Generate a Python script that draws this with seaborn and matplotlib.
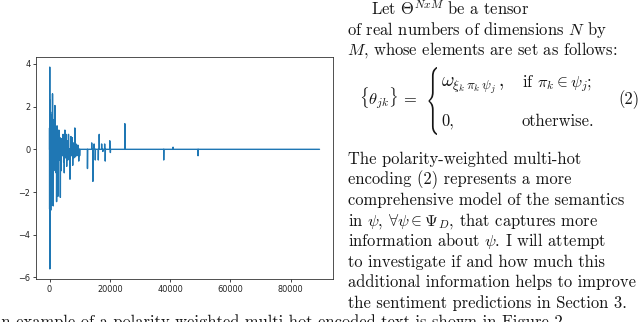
import numpy as np
import pandas as pd
import seaborn as sns
import matplotlib.pyplot as plt
from matplotlib.textpath import TextPath
from matplotlib.patches import PathPatch
from matplotlib.transforms import Affine2D

# spike positions (index) and values of the weighted vector
n_points = 89600
spike_idx = [20, 40, 60, 80, 100, 130, 160, 190, 230, 280, 350, 420, 500, 560,
             640, 720, 800, 900, 1000, 1080, 1160, 1250, 1350, 1450, 1550, 1650,
             1800, 1900, 2050, 2200, 2350, 2500, 2650, 2800, 2950, 3100, 3250,
             3450, 3600, 3750, 3900, 4100, 4300, 4500, 4700, 4900, 5100, 5300,
             5500, 5700, 5900, 6100, 6300, 6500, 6800, 7100, 7300, 7500, 7700,
             7900, 8100, 8400, 8600, 8800, 9100, 9400, 9700, 10000,
             12600, 14000, 14400, 14800, 15200, 16200, 16500, 17300, 17700,
             18300, 18500, 20000, 20200, 25000, 37900, 41000, 49300]
spike_val = [1.0, -2.8, 2.25, 3.85, 2.3, -5.6, -5.55, -3.9, 1.0, -2.6, 1.75, -2.85,
             1.0, -2.5, 1.6, -2.2, 0.8, -2.6, 2.6, 1.4, -2.55, -2.65, 0.9, -1.0,
             0.5, -0.7, 2.05, -0.4, 0.8, -1.1, -2.45, 1.1, 0.6, -2.2, 0.5, 0.9,
             -0.5, 0.55, -2.25, 0.3, -1.0, 0.5, -0.3, 0.7, -0.6, -1.1, 0.9, -0.4,
             0.7, -0.8, 0.4, -0.5, 0.7, -0.4, -1.4, 0.6, -0.3, 0.55, -0.75,
             0.3, -0.4, 1.0, -0.35, 0.25, -0.3, 0.2, -0.55, -0.3,
             -0.9, 0.3, -1.5, 0.25, -0.5, -0.5, 0.7, 0.25, -0.1,
             0.25, -0.55, 0.4, -0.15, 1.2, -0.5, 0.1, -0.3]

values = np.zeros(n_points)
values[spike_idx] = spike_val
df = pd.DataFrame({'index': np.arange(n_points), 'value': values})

# page text
text_lines = [
    r"Let $\Theta^{NxM}$ be a tensor",
    r"of real numbers of dimensions $N$ by",
    r"$M$, whose elements are set as follows:",
]
para_lines = [
    "The polarity-weighted multi-hot",
    "encoding (2) represents a more",
    "comprehensive model of the semantics",
    r"in $\psi$, $\forall\psi\in\Psi_D$, that captures more",
    r"information about $\psi$. I will attempt",
    "to investigate if and how much this",
    "additional information helps to improve",
    "the sentiment predictions in Section 3.",
]
bottom_line = "An example of a polarity-weighted multi-hot encoded text is shown in Figure 2."

sns.set_theme(style="ticks")
plt.rcParams['mathtext.fontset'] = 'cm'

fig = plt.figure(figsize=(6.4, 3.22), dpi=100)

# page overlay in pixel coordinates
page = fig.add_axes([0, 0, 1, 1])
page.set_xlim(0, 640)
page.set_ylim(322, 0)
page.axis('off')

fs = 11.9
tc = '#151515'
page.text(371, 15, text_lines[0], fontsize=fs, family='cmr10', color=tc, va='baseline')
page.text(347, 35, text_lines[1], fontsize=fs, family='cmr10', color=tc, va='baseline')
page.text(347, 55, text_lines[2], fontsize=fs, family='cmr10', color=tc, va='baseline')

# equation (2)
page.text(359, 104, r"$\{\theta_{jk}\}\,=$", fontsize=fs, color=tc, va='baseline')
page.text(441, 87, r"$\omega_{\xi_{k}\,\pi_{k}\,\psi_{j}}\,,$", fontsize=fs * 1.15, color=tc, va='baseline')
page.text(522, 87, r"if $\pi_k\in\psi_j$;", fontsize=fs, family='cmr10', color=tc, va='baseline')
page.text(441, 126, "0,", fontsize=fs, family='cmr10', color=tc, va='baseline')
page.text(522, 126, "otherwise.", fontsize=fs, family='cmr10', color=tc, va='baseline')
page.text(618, 104, "(2)", fontsize=fs, family='cmr10', color=tc, va='baseline')

brace = TextPath((0, 0), r"$\{$", size=1)
v = brace.vertices
bx0, bx1 = v[:, 0].min(), v[:, 0].max()
by0, by1 = v[:, 1].min(), v[:, 1].max()
bw, bh = 11, 68
tr = Affine2D().translate(-bx0, -by1).scale(bw / (bx1 - bx0), -bh / (by1 - by0)).translate(426, 67)
page.add_patch(PathPatch(tr.transform_path(brace), color=tc, lw=0))

for i, line in enumerate(para_lines):
    page.text(348, 163.5 + i * 20.6, line, fontsize=fs, family='cmr10', color=tc, va='baseline')

page.text(-11, 327, bottom_line, fontsize=fs, family='cmr10', color=tc, va='baseline')

# the plot
ax = fig.add_axes([36 / 640, 1 - 279 / 322, 297 / 640, 222 / 322])
sns.lineplot(data=df, x='index', y='value', estimator=None, sort=False,
             color='#1f77b4', linewidth=1.0, ax=ax)
ax.set_xlabel('')
ax.set_ylabel('')
ax.set_xticks([0, 20000, 40000, 60000, 80000])
ax.set_yticks([-6, -4, -2, 0, 2, 4])
ax.tick_params(labelsize=5.9, length=2.5, width=0.6, pad=1.5, colors='#222222')
for s in ax.spines.values():
    s.set_linewidth(0.6)
    s.set_color('#333333')

fig.savefig('out.png', dpi=100)
